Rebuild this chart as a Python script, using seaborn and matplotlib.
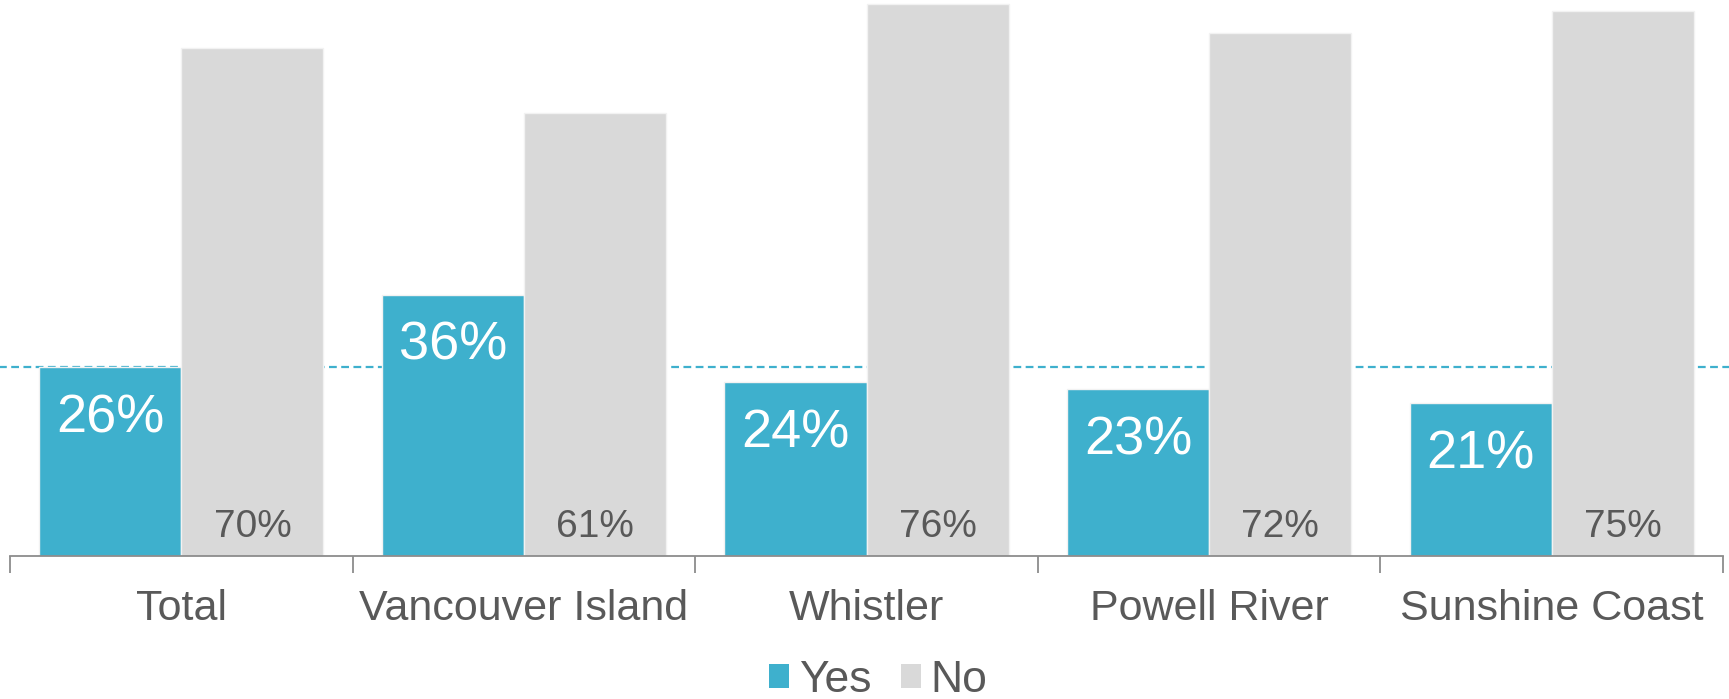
import matplotlib
matplotlib.use("Agg")
import matplotlib.pyplot as plt
import seaborn as sns
import pandas as pd
from matplotlib.ticker import FixedLocator
from matplotlib.patches import Patch

regions = ["Total", "Vancouver Island", "Whistler", "Powell River", "Sunshine Coast"]
yes_pct = [26, 36, 24, 23, 21]
no_pct = [70, 61, 76, 72, 75]
responses = ["Yes", "No"]

YES_COLOR = "#3EB0CD"
NO_COLOR = "#D9D9D9"
TEXT_COLOR = "#595959"

sns.set_theme(style="white")
plt.rcParams["font.family"] = ["Liberation Sans", "DejaVu Sans"]

df = pd.DataFrame({
    "region": regions * 2,
    "response": ["Yes"] * len(regions) + ["No"] * len(regions),
    "pct": yes_pct + no_pct,
})

fig = plt.figure(figsize=(17.29, 6.99), dpi=100)
ax = fig.add_axes([10 / 1729, 143 / 699, 1713 / 1729, 556 / 699])

sns.barplot(data=df, x="region", y="pct", hue="response", order=regions,
            hue_order=responses, palette={"Yes": YES_COLOR, "No": NO_COLOR},
            width=0.83, gap=0, saturation=1, edgecolor="#F2F2F2", linewidth=1,
            legend=False, ax=ax, zorder=2)

ax.set_xlim(-0.5, len(regions) - 0.5)
ax.set_ylim(0, 76.55)

# reference line at the overall "Yes" share
ax.axhline(yes_pct[0], xmin=-0.01, xmax=1.01, color=YES_COLOR, lw=1.6,
           ls=(0, (3.5, 2)), clip_on=False, zorder=1)

# value labels
yes_bars, no_bars = ax.containers[0], ax.containers[1]
for bar, v in zip(yes_bars, yes_pct):
    ax.annotate(f"{v}%", (bar.get_x() + bar.get_width() / 2, v),
                xytext=(0, -37), textcoords="offset points",
                ha="center", va="center", color="white", fontsize=39, zorder=3)
for bar, v in zip(no_bars, no_pct):
    ax.annotate(f"{v}%", (bar.get_x() + bar.get_width() / 2, 0),
                xytext=(0, 21), textcoords="offset points",
                ha="center", va="center", color=TEXT_COLOR, fontsize=28, zorder=3)

# axes styling
for side in ["top", "right", "left"]:
    ax.spines[side].set_visible(False)
ax.spines["bottom"].set_color("#8C8C8C")
ax.spines["bottom"].set_linewidth(1.3)
ax.set_yticks([])
ax.set_xlabel("")
ax.set_ylabel("")
ax.tick_params(axis="x", which="major", length=0, pad=24, labelsize=31,
               labelcolor=TEXT_COLOR)
ax.xaxis.set_minor_locator(FixedLocator([i - 0.5 for i in range(len(regions) + 1)]))
ax.tick_params(axis="x", which="minor", length=12, width=1.3, color="#8C8C8C",
               direction="out", bottom=True)

handles = [Patch(facecolor=YES_COLOR, edgecolor="none"),
           Patch(facecolor=NO_COLOR, edgecolor="none")]
fig.legend(handles, responses, loc="center", bbox_to_anchor=(0.508, 1 - 680 / 699),
           ncol=2, frameon=False, fontsize=32, labelcolor=TEXT_COLOR,
           handlelength=0.45, handleheight=0.45, handletextpad=0.22, columnspacing=0.65,
           borderpad=0)

fig.savefig("out.png", dpi=100)
